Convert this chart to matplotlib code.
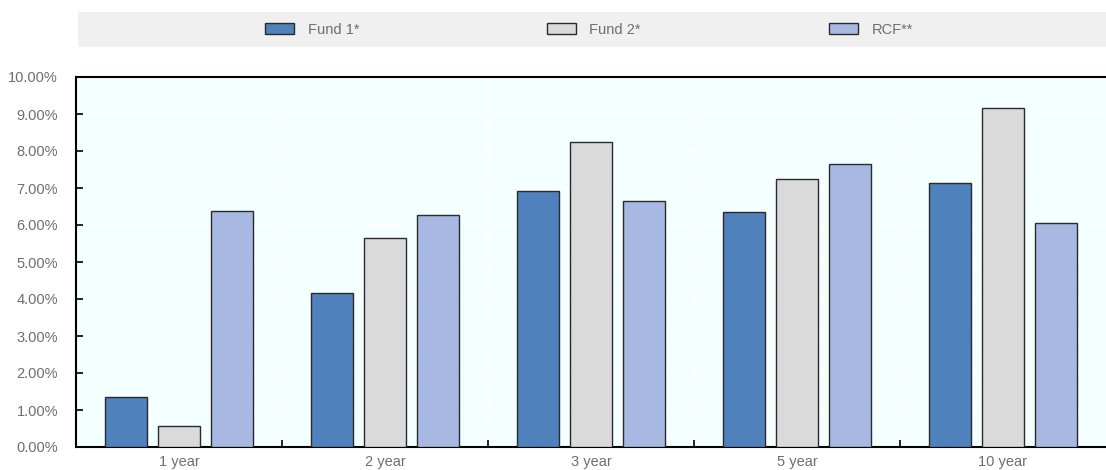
import matplotlib
matplotlib.use("Agg")
import matplotlib.pyplot as plt
from matplotlib.patches import Rectangle
from matplotlib.ticker import FuncFormatter, MultipleLocator
import numpy as np

plt.rcParams["font.family"] = ["Liberation Sans", "DejaVu Sans"]

# annualised returns by horizon (%)
periods = ["1 year", "2 year", "3 year", "5 year", "10 year"]
fund1 = [1.36, 4.17, 6.91, 6.34, 7.14]
fund2 = [0.58, 5.66, 8.24, 7.23, 9.15]
rcf = [6.38, 6.28, 6.64, 7.66, 6.05]

series = [("Fund 1*", fund1, "#4f81bd"),
          ("Fund 2*", fund2, "#dadada"),
          ("RCF**", rcf, "#a7b9e3")]

text_col = "#6e6e6e"
fs = 10.5

fig = plt.figure(figsize=(11.06, 4.70), dpi=100)
ax = fig.add_axes([76 / 1106, 1 - 447 / 470, 1 - 76 / 1106, (447 - 77) / 470])
ax.set_facecolor("#f4ffff")

x = np.arange(len(periods))
w = 0.2
step = 0.257
handles = []
for i, (name, vals, col) in enumerate(series):
    b = ax.bar(x + (i - 1) * step, vals, width=w, color=col,
               edgecolor="#2a2a2a", linewidth=1.0, label=name, zorder=3)
    handles.append(b)

ax.set_xlim(-0.5, len(periods) - 0.5)
ax.set_ylim(0, 10)
ax.yaxis.set_major_locator(MultipleLocator(1))
ax.yaxis.set_major_formatter(FuncFormatter(lambda v, p: f"{v:.2f}%"))

# category labels centred, ticks at group boundaries
ax.set_xticks(x)
ax.set_xticklabels(periods)
ax.set_xticks(np.arange(0.5, len(periods) - 0.5, 1), minor=True)
ax.tick_params(axis="x", which="major", length=0, pad=6, labelsize=fs, labelcolor=text_col)
ax.tick_params(axis="x", which="minor", direction="in", length=5, width=1.2, color="black")
ax.tick_params(axis="y", direction="in", length=5, width=1.2, color="black",
               labelsize=fs, labelcolor=text_col, pad=13)

ax.grid(True, axis="y", which="major", color="white", linewidth=1.2, zorder=0)
ax.grid(True, axis="x", which="minor", color="white", linewidth=1.2, zorder=0)
ax.set_axisbelow(True)

for s in ["left", "top", "bottom"]:
    ax.spines[s].set_linewidth(1.5)
    ax.spines[s].set_color("black")
ax.spines["right"].set_visible(False)

# grey legend band
fig.patches.append(Rectangle((78 / 1106, 1 - 47 / 470), 1 - 78 / 1106, 35 / 470,
                             transform=fig.transFigure, facecolor="#f0f0f0",
                             edgecolor="none", zorder=0))
leg = fig.legend(handles=handles, loc="center", ncol=3,
                 bbox_to_anchor=(589 / 1106, 1 - 29.5 / 470),
                 frameon=False, fontsize=fs, handlelength=2.0, handleheight=0.8,
                 handletextpad=0.9, columnspacing=12.9)
for t in leg.get_texts():
    t.set_color(text_col)

fig.savefig("out.png", dpi=100)
plt.close(fig)
